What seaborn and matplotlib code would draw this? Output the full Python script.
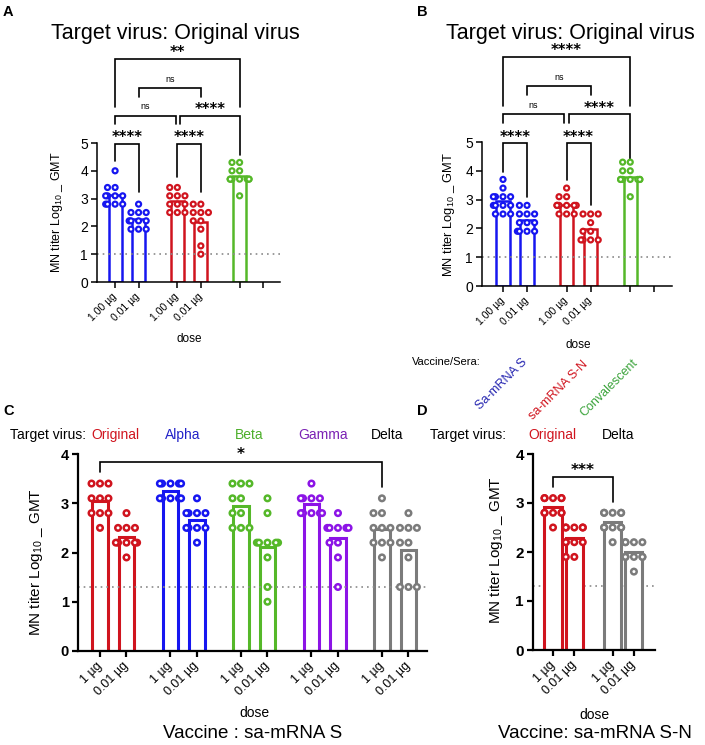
import matplotlib
matplotlib.use('Agg')
import matplotlib.pyplot as plt
import numpy as np
import pandas as pd
import seaborn as sns

sns.set_theme(style='ticks')
plt.rcParams['font.family'] = ['Liberation Sans', 'DejaVu Sans']
plt.rcParams['mathtext.fontset'] = 'custom'
plt.rcParams['mathtext.rm'] = 'Liberation Sans'
for k in ['text.color', 'axes.labelcolor', 'xtick.color', 'ytick.color', 'axes.edgecolor']:
    plt.rcParams[k] = 'black'

BLUE = '#1616f0'
RED = '#d0141e'
GREEN = '#55b829'
PURPLE = '#8c14e6'
GREY = '#7b7b7b'

# ---- panel A: target virus original (log10 MN titer per animal)
a_s_hi = [4.0, 3.4, 3.4, 3.1, 3.1, 3.1, 3.1, 2.8, 2.8, 2.8, 2.8]
a_s_lo = [2.8, 2.5, 2.5, 2.5, 2.2, 2.2, 2.2, 2.2, 1.9, 1.9, 1.9]
a_sn_hi = [3.4, 3.4, 3.1, 3.1, 3.1, 2.8, 2.8, 2.8, 2.5, 2.5, 2.5]
a_sn_lo = [2.8, 2.8, 2.5, 2.5, 2.5, 2.2, 2.2, 1.9, 1.3, 1.0]
a_conv = [4.3, 4.3, 4.0, 4.0, 3.7, 3.7, 3.7, 3.7, 3.7, 3.7, 3.7, 3.1]

# ---- panel B
b_s_hi = [3.7, 3.4, 3.1, 3.1, 3.1, 3.1, 2.8, 2.8, 2.8, 2.8, 2.5, 2.5, 2.5]
b_s_lo = [2.8, 2.8, 2.5, 2.5, 2.5, 2.2, 2.2, 2.2, 1.9, 1.9, 1.9, 1.9]
b_sn_hi = [3.4, 3.1, 3.1, 2.8, 2.8, 2.8, 2.8, 2.8, 2.8, 2.5, 2.5, 2.5]
b_sn_lo = [2.5, 2.5, 2.5, 2.2, 1.9, 1.9, 1.6, 1.6, 1.6, 1.6]
b_conv = [4.3, 4.3, 4.0, 4.0, 3.7, 3.7, 3.7, 3.7, 3.7, 3.7, 3.7, 3.1]

ab_groups = ['S 1.00', 'S 0.01', 'SN 1.00', 'SN 0.01', 'Conv']
ab_colors = [BLUE, BLUE, RED, RED, GREEN]
ab_pos = [0, 1, 2.65, 3.65, 5.3]
ab_ticks = [0, 1, 2.65, 3.65, 5.3, 6.3]
ab_labels = ['1.00 µg', '0.01 µg', '1.00 µg', '0.01 µg', '', '']

# ---- panel C: vaccine sa-mRNA S, five target viruses
c_orig_hi = [3.4, 3.4, 3.4, 3.1, 3.1, 3.1, 2.8, 2.8, 2.8, 2.5]
c_orig_lo = [2.8, 2.5, 2.5, 2.5, 2.2, 2.2, 2.2, 2.2, 2.2, 1.9]
c_alpha_hi = [3.4, 3.4, 3.4, 3.4, 3.4, 3.1, 3.1, 3.1, 3.1, 3.1]
c_alpha_lo = [3.1, 2.8, 2.8, 2.8, 2.8, 2.5, 2.5, 2.5, 2.5, 2.2]
c_beta_hi = [3.4, 3.4, 3.4, 3.1, 3.1, 2.8, 2.8, 2.5, 2.5, 2.5]
c_beta_lo = [3.1, 2.8, 2.2, 2.2, 2.2, 2.2, 2.2, 1.9, 1.3, 1.0]
c_gamma_hi = [3.4, 3.1, 3.1, 3.1, 3.1, 2.8, 2.8, 2.8, 2.8, 2.8]
c_gamma_lo = [2.8, 2.5, 2.5, 2.5, 2.5, 2.5, 2.2, 2.2, 1.9, 1.3]
c_delta_hi = [3.1, 2.8, 2.8, 2.5, 2.5, 2.5, 2.2, 2.2, 2.2, 1.9]
c_delta_lo = [2.8, 2.5, 2.5, 2.5, 2.2, 2.2, 1.9, 1.3, 1.3, 1.3]
c_groups = ['O1', 'O2', 'A1', 'A2', 'B1', 'B2', 'G1', 'G2', 'D1', 'D2']
c_colors = [RED, RED, BLUE, BLUE, GREEN, GREEN, PURPLE, PURPLE, GREY, GREY]
c_pos = [0, 1, 2.66, 3.66, 5.32, 6.32, 7.98, 8.98, 10.64, 11.64]
c_labels = ['1 µg', '0.01 µg'] * 5

# ---- panel D: vaccine sa-mRNA S-N
d_orig_hi = [3.1, 3.1, 3.1, 3.1, 3.1, 2.8, 2.8, 2.8, 2.8, 2.8, 2.5]
d_orig_lo = [2.5, 2.5, 2.5, 2.5, 2.5, 2.2, 2.2, 2.2, 2.2, 1.9, 1.9]
d_delta_hi = [2.8, 2.8, 2.8, 2.8, 2.8, 2.5, 2.5, 2.5, 2.5, 2.5, 2.2]
d_delta_lo = [2.2, 2.2, 2.2, 2.2, 1.9, 1.9, 1.9, 1.9, 1.9, 1.6]
d_groups = ['O1', 'O2', 'D1', 'D2']
d_colors = [RED, RED, GREY, GREY]
d_pos = [0, 1, 2.8, 3.8]
d_labels = ['1 µg', '0.01 µg'] * 2

# significance brackets: x from, x to, bar height, left leg end, right leg end, label, label y
a_sig = [(0, 1, 4.96, 4.35, 3.24, '****', 5.2), (2.65, 3.65, 4.96, 3.78, 3.24, '****', 5.2),
         (0, 2.58, 5.97, 5.68, 5.68, 'ns', 6.3), (2.78, 5.3, 5.97, 5.68, 4.57, '****', 6.2),
         (1, 3.65, 6.98, 6.65, 6.65, 'ns', 7.3), (0, 5.3, 8.02, 6.3, 6.3, '**', 8.25)]
b_sig = [(0, 1, 4.98, 3.97, 3.1, '****', 5.15), (2.65, 3.65, 4.98, 3.68, 2.81, '****', 5.15),
         (0, 2.54, 5.96, 5.65, 5.65, 'ns', 6.25), (2.75, 5.3, 5.96, 5.65, 4.37, '****', 6.15),
         (1, 3.65, 6.94, 6.63, 6.63, 'ns', 7.25), (0, 5.3, 7.96, 6.25, 6.25, '****', 8.17)]
c_sig = [(0, 10.64, 3.84, 3.63, 3.33, '*', 3.98)]
d_sig = [(0, 2.8, 3.53, 3.33, 3.02, '***', 3.67)]

W, H = 705, 745
fig = plt.figure(figsize=(W / 100, H / 100), dpi=100)


def add_ax(x0, y0, x1, y1):
    return fig.add_axes([x0 / W, 1 - y1 / H, (x1 - x0) / W, (y1 - y0) / H])


def ftext(x, y, s, **kw):
    kw.setdefault('va', 'center')
    fig.text(x / W, 1 - y / H, s, **kw)


def draw_panel(ax, names, pos, values, colors, bar_w, bar_lw, dot, dot_lw):
    n = [len(v) for v in values]
    df = pd.DataFrame({'pos': np.repeat(pos, n), 'grp': np.repeat(names, n),
                       'titer': np.concatenate(values)})
    pal = dict(zip(names, colors))
    sns.barplot(data=df, x='pos', y='titer', hue='grp', palette=pal, native_scale=True,
                errorbar=None, fill=False, width=bar_w, linewidth=bar_lw, dodge=False,
                legend=False, ax=ax)
    for p in ax.patches:
        ec = p.get_edgecolor()
        p.set_fill(True)
        p.set_facecolor('white')
        p.set_edgecolor(ec)
        p.set_joinstyle('miter')
    sns.swarmplot(data=df, x='pos', y='titer', hue='grp', palette=pal, native_scale=True,
                  size=dot, linewidth=dot_lw, dodge=False, legend=False, ax=ax, warn_thresh=1)
    for c in ax.collections:
        fc = c.get_facecolors()
        c.set_edgecolors(fc)
        c.set_facecolors('white')
        c.set_zorder(3)


def style(ax, ticks, labels, xlim, ylim, yticks, tick_fs, lab_fs, bold, spine_w):
    ax.set_xlim(xlim)
    ax.set_ylim(ylim)
    ax.set_xticks(ticks)
    ax.set_xticklabels(labels, rotation=45, ha='right', va='center',
                       rotation_mode='anchor', fontsize=lab_fs)
    ax.set_yticks(yticks)
    ax.set_yticklabels([str(t) for t in yticks], fontsize=tick_fs,
                       fontweight='bold' if bold else 'normal')
    ax.set_xlabel('')
    sns.despine(ax=ax)
    for s in ['left', 'bottom']:
        ax.spines[s].set_linewidth(spine_w)
    ax.tick_params(axis='both', width=spine_w, length=4.5, pad=2)
    ax.tick_params(axis='x', pad=5)


def brackets(ax, specs, star_fs):
    for x1, x2, h, l1, l2, lab, ty in specs:
        ax.plot([x1, x1, x2, x2], [l1, h, h, l2], color='black', lw=1.2, clip_on=False,
                solid_joinstyle='miter')
        if lab == 'ns':
            ax.text((x1 + x2) / 2, ty, lab, ha='center', va='center', fontsize=6.5)
        else:
            ax.text((x1 + x2) / 2, ty, lab, ha='center', va='center', fontsize=star_fs,
                    family='DejaVu Sans', fontweight='bold')


ylab = r'MN titer Log$\mathregular{_{10}}$ _ GMT'

# ---------- A
axA = add_ax(97, 143, 280, 282)
axA.axhline(1.0, color='#8a8a8a', lw=1.2, ls=(0, (1, 2.4)), zorder=2)
draw_panel(axA, ab_groups, ab_pos, [a_s_hi, a_s_lo, a_sn_hi, a_sn_lo, a_conv],
           ab_colors, 0.56, 1.8, 3.6, 1.6)
style(axA, ab_ticks, ab_labels, (-0.77, 7.02), (0, 5), [0, 1, 2, 3, 4, 5], 10, 7.5, False, 1.1)
axA.set_ylabel(ylab, fontsize=9)
axA.yaxis.set_label_coords(-0.176, 0.5)
brackets(axA, a_sig, 10.5)

# ---------- B
axB = add_ax(482, 142, 672, 286)
axB.axhline(1.0, color='#8a8a8a', lw=1.2, ls=(0, (1, 2.4)), zorder=2)
draw_panel(axB, ab_groups, ab_pos, [b_s_hi, b_s_lo, b_sn_hi, b_sn_lo, b_conv],
           ab_colors, 0.56, 1.8, 3.6, 1.6)
style(axB, ab_ticks, ab_labels, (-0.875, 7.04), (0, 5), [0, 1, 2, 3, 4, 5], 10, 7.5, False, 1.1)
axB.set_ylabel(ylab, fontsize=9.3)
axB.yaxis.set_label_coords(-0.13, 0.5)
brackets(axB, b_sig, 10.5)

# ---------- C
axC = add_ax(78, 454, 427, 651)
axC.axhline(1.3, color='#8a8a8a', lw=1.2, ls=(0, (1, 2.4)), zorder=2)
draw_panel(axC, c_groups, c_pos,
           [c_orig_hi, c_orig_lo, c_alpha_hi, c_alpha_lo, c_beta_hi, c_beta_lo,
            c_gamma_hi, c_gamma_lo, c_delta_hi, c_delta_lo],
           c_colors, 0.6, 2.2, 4.0, 1.8)
style(axC, c_pos, c_labels, (-0.83, 12.34), (0, 4), [0, 1, 2, 3, 4], 10.5, 9, True, 1.6)
axC.set_ylabel(ylab, fontsize=11)
axC.yaxis.set_label_coords(-0.094, 0.45)
brackets(axC, c_sig, 11)

# ---------- D
axD = add_ax(533, 454, 655, 650)
axD.axhline(1.3, color='#8a8a8a', lw=1.2, ls=(0, (1, 2.4)), zorder=0.5)
draw_panel(axD, d_groups, d_pos, [d_orig_hi, d_orig_lo, d_delta_hi, d_delta_lo],
           d_colors, 0.8, 2.2, 4.0, 1.8)
style(axD, d_pos, d_labels, (-0.94, 4.79), (0, 4), [0, 1, 2, 3, 4], 11, 9, True, 1.6)
axD.set_ylabel(ylab, fontsize=11)
axD.yaxis.set_label_coords(-0.23, 0.51)
brackets(axD, d_sig, 11)

# ---------- figure texts
for x, y, s in [(3, 12, 'A'), (417, 12, 'B'), (3, 411, 'C'), (417, 411, 'D')]:
    ftext(x, y, s, fontsize=10.5, fontweight='bold', ha='left')
ftext(175, 33, 'Target virus: Original virus', fontsize=15.5, ha='center')
ftext(570, 33, 'Target virus: Original virus', fontsize=15.5, ha='center')
ftext(189, 339, 'dose', fontsize=8.5, ha='center')
ftext(578, 345, 'dose', fontsize=8.5, ha='center')
ftext(412, 362, 'Vaccine/Sera:', fontsize=8, ha='left')
for x, y, s, col in [(521, 356, 'Sa-mRNA S', '#2424b0'), (582, 358, 'sa-mRNA S-N', RED),
                     (632, 357, 'Convalescent', '#3aa33a')]:
    ftext(x, y, s, fontsize=9, color=col, rotation=45,
          ha='right', va='top', rotation_mode='anchor')

hdr = 10
ftext(10, 435, 'Target virus:', fontsize=hdr, ha='left')
for x, s, col in [(115, 'Original', RED), (183, 'Alpha', '#2222c8'), (249, 'Beta', '#4caf2a'),
                  (323, 'Gamma', '#7b22b4'), (387, 'Delta', 'black')]:
    ftext(x, 435, s, fontsize=hdr, color=col, ha='center')
ftext(430, 435, 'Target virus:', fontsize=hdr, ha='left')
ftext(552, 435, 'Original', fontsize=hdr, color=RED, ha='center')
ftext(618, 435, 'Delta', fontsize=hdr, color='black', ha='center')

ftext(254, 713, 'dose', fontsize=10, ha='center')
ftext(253, 734, 'Vaccine : sa-mRNA S', fontsize=13.5, ha='center')
ftext(594, 715, 'dose', fontsize=10, ha='center')
ftext(595, 733, 'Vaccine: sa-mRNA S-N', fontsize=13.5, ha='center')

fig.savefig('out.png', dpi=100)
